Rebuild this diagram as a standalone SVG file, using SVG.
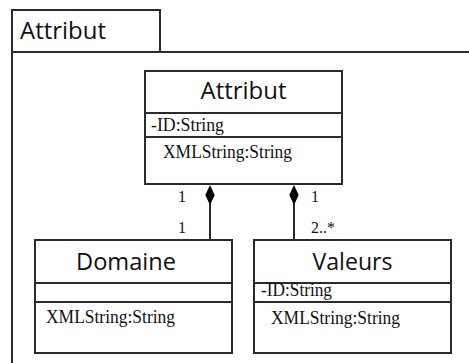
<svg xmlns="http://www.w3.org/2000/svg" width="469" height="363" viewBox="0 0 469 363">
  <style>
    .frame { fill: none; stroke: #2b2b2b; stroke-width: 2; }
    .box { fill: #ffffff; stroke: #2b2b2b; stroke-width: 2; }
    .sep { stroke: #2b2b2b; stroke-width: 2; }
    .link { stroke: #2b2b2b; stroke-width: 2; fill: none; }
    .diamond { fill: #000000; stroke: none; }
    .title { font-family: "Open Sans", "Noto Sans", "Liberation Sans", sans-serif; font-size: 23px; fill: #111111; }
    .attr { font-family: "Liberation Serif", "DejaVu Serif", serif; font-size: 18px; fill: #111111; }
    .mult { font-family: "Liberation Serif", "DejaVu Serif", serif; font-size: 16px; fill: #111111; }
  </style>

  <rect width="469" height="363" fill="#ffffff"/>

  <!-- package frame with name tab -->
  <g id="package-frame">
    <path class="frame" d="M12,363 V10 H160 V52"/>
    <path class="frame" d="M12,52 H470"/>
    <text class="title" x="20" y="39" textLength="86" lengthAdjust="spacingAndGlyphs">Attribut</text>
  </g>

  <!-- composition connectors -->
  <g id="connectors">
    <path class="link" d="M210,203 V240"/>
    <path class="link" d="M294,203 V240"/>
    <polygon class="diamond" points="210,185 214.7,195 210,205 205.3,195"/>
    <polygon class="diamond" points="294,185 298.7,195 294,205 289.3,195"/>
    <text class="mult" x="178" y="202">1</text>
    <text class="mult" x="178" y="233">1</text>
    <text class="mult" x="311" y="202">1</text>
    <text class="mult" x="311" y="233">2..*</text>
  </g>

  <!-- class Attribut -->
  <g id="class-attribut">
    <rect class="box" x="145" y="71" width="197" height="113"/>
    <line class="sep" x1="145" y1="113" x2="342" y2="113"/>
    <line class="sep" x1="145" y1="137" x2="342" y2="137"/>
    <text class="title" x="243.5" y="99" text-anchor="middle" textLength="86" lengthAdjust="spacingAndGlyphs">Attribut</text>
    <text class="attr" x="151" y="131" textLength="73" lengthAdjust="spacingAndGlyphs">-ID:String</text>
    <text class="attr" x="163" y="158" textLength="129" lengthAdjust="spacingAndGlyphs">XMLString:String</text>
  </g>

  <!-- class Domaine -->
  <g id="class-domaine">
    <rect class="box" x="35" y="240" width="197" height="113"/>
    <line class="sep" x1="35" y1="283" x2="232" y2="283"/>
    <line class="sep" x1="35" y1="302" x2="232" y2="302"/>
    <text class="title" x="76" y="270" textLength="100" lengthAdjust="spacingAndGlyphs">Domaine</text>
    <text class="attr" x="46" y="323" textLength="129" lengthAdjust="spacingAndGlyphs">XMLString:String</text>
  </g>

  <!-- class Valeurs -->
  <g id="class-valeurs">
    <rect class="box" x="254" y="240" width="197" height="113"/>
    <line class="sep" x1="254" y1="283" x2="451" y2="283"/>
    <line class="sep" x1="254" y1="302" x2="451" y2="302"/>
    <text class="title" x="352.5" y="269.5" text-anchor="middle" textLength="80" lengthAdjust="spacingAndGlyphs">Valeurs</text>
    <text class="attr" x="261" y="296" textLength="71" lengthAdjust="spacingAndGlyphs">-ID:String</text>
    <text class="attr" x="271" y="324" textLength="129" lengthAdjust="spacingAndGlyphs">XMLString:String</text>
  </g>
</svg>
